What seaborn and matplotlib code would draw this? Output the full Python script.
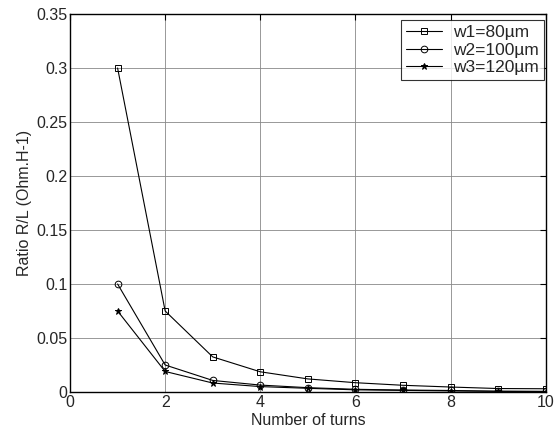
import matplotlib
matplotlib.use("Agg")
import matplotlib.pyplot as plt
import seaborn as sns
import pandas as pd

turns = [1, 2, 3, 4, 5, 6, 7, 8, 9, 10]
w1 = [0.300, 0.075, 0.0325, 0.0187, 0.0121, 0.0086, 0.0062, 0.0046, 0.0032, 0.0030]
w2 = [0.100, 0.025, 0.0107, 0.0064, 0.0040, 0.0025, 0.0018, 0.0014, 0.0007, 0.0006]
w3 = [0.075, 0.019, 0.0083, 0.0050, 0.0034, 0.0020, 0.0015, 0.0010, 0.0006, 0.0004]
labels = ["w1=80µm", "w2=100µm", "w3=120µm"]
markers = ["s", "o", "*"]
msizes = [4.8, 4.8, 4.8]

sns.set_style("white")
plt.rcParams['font.family'] = ['Liberation Sans', 'DejaVu Sans']

fig = plt.figure(figsize=(5.57, 4.34), dpi=100)
ax = fig.add_axes([0.1257, 0.0968, 0.854, 0.871])

for vals, lab, m, ms in zip([w1, w2, w3], labels, markers, msizes):
    df = pd.DataFrame({"turns": turns, "ratio": vals})
    sns.lineplot(data=df, x="turns", y="ratio", ax=ax, color="black", lw=0.8,
                 marker=m, markersize=ms, markerfacecolor="none" if m != "*" else "black",
                 markeredgecolor="black", markeredgewidth=0.7, label=lab)

ax.set_xlim(0, 10)
ax.set_ylim(0, 0.35)
ax.set_xticks([0, 2, 4, 6, 8, 10])
ax.set_yticks([0, 0.05, 0.1, 0.15, 0.2, 0.25, 0.3, 0.35])
ax.set_yticklabels(["0", "0.05", "0.1", "0.15", "0.2", "0.25", "0.3", "0.35"])
ax.grid(True, color="#888888", lw=0.6)
ax.tick_params(direction="in", top=True, right=True, labelsize=11.5, length=4,
               color="black", pad=2)
for s in ax.spines.values():
    s.set_color("black")
    s.set_linewidth(1.0)
ax.set_xlabel("Number of turns", fontsize=11.5, labelpad=2)
ax.set_ylabel("Ratio R/L (Ohm.H-1)", fontsize=11.5, labelpad=3)

leg = ax.legend(loc="upper right", bbox_to_anchor=(0.996, 0.984), borderaxespad=0,
                fontsize=12.5, frameon=True, fancybox=False, edgecolor="black",
                handlelength=2.1, handletextpad=0.6, labelspacing=0.12, borderpad=0.3)
leg.get_frame().set_linewidth(0.8)

fig.savefig("out.png", dpi=100)
